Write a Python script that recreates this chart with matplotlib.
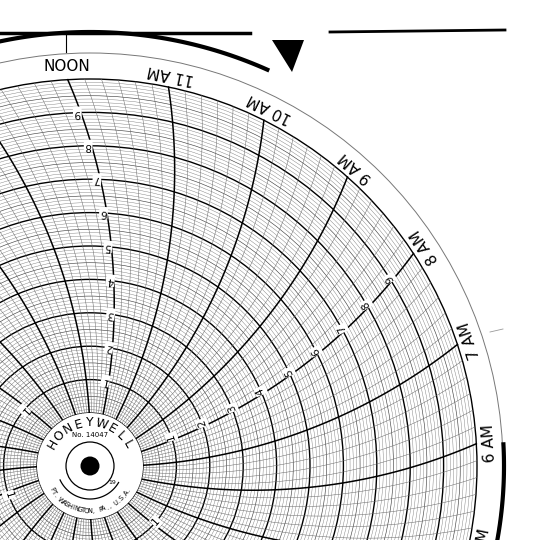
import numpy as np
import matplotlib
matplotlib.use("Agg")
import matplotlib.pyplot as plt
from matplotlib.patches import Circle, Polygon

# ---- data ----
hour_labels = ["6 AM", "7 AM", "8 AM", "9 AM", "10 AM", "11 AM", "NOON", "1 PM", "2 PM", "3 PM", "4 PM", "5 PM", "6 PM",
               "7 PM", "8 PM", "9 PM", "10 PM", "11 PM", "MIDNIGHT", "1 AM", "2 AM", "3 AM", "4 AM", "5 AM"]
hour_values = list(range(6, 30))  # hours from midnight
value_labels = ["1", "2", "3", "4", "5", "6", "7", "8", "9"]
value_ticks = [1, 2, 3, 4, 5, 6, 7, 8, 9]
labelled_hours = [8, 12, 16, 20, 24, 28]
brand = "HONEYWELL"
chart_no = "No. 14047"
origin = "FT. WASHINGTON, PA., U.S.A."

# ---- geometry ----
W, H = 552, 540
cx, cy = 90, 540 - 466
R = 387.0
r0 = 53.0
RHO = 560.0
unit = (R - r0) / 10.0

def theta(h):
    return 93.3 - (12 - h) * 15.0

def point_on_arc(th, r):
    a0 = th - np.degrees(np.arcsin(R / (2 * RHO)))
    a = np.radians(a0 + np.degrees(np.arcsin(np.asarray(r) / (2 * RHO))))
    return cx + r * np.cos(a), cy + r * np.sin(a)

def arc_pts(th, n=60):
    r = np.linspace(r0 - 5, R, n)
    return point_on_arc(th, r)

def inside(x, y, m=6):
    return m < x < W - m and m < y < H - m

fig = plt.figure(figsize=(5.52, 5.4), dpi=100)
ax = fig.add_axes([0, 0, 1, 1])
ax.set_xlim(0, W); ax.set_ylim(0, H)
ax.set_aspect("equal"); ax.axis("off")

# concentric circles
for k in range(0, 101):
    r = r0 + unit * k / 10
    if k % 10 == 0:
        lw, col = 1.0, "black"
    elif k % 5 == 0:
        lw, col = 0.45, "#444"
    else:
        lw, col = 0.3, "#777"
    ax.add_patch(Circle((cx, cy), r, fill=False, lw=lw, ec=col, zorder=2))

# time lines (10-minute)
for m in range(0, 24 * 6):
    h = 6 + m / 6
    x, y = arc_pts(theta(h))
    if m % 6 == 0:
        lw, col = 1.1, "black"
    else:
        lw, col = 0.35, "#666"
    ax.plot(x, y, lw=lw, color=col, zorder=3)

# hour labels
for lab, h in zip(hour_labels, hour_values):
    th = theta(h)
    rr = 400
    x, y = cx + rr * np.cos(np.radians(th)), cy + rr * np.sin(np.radians(th))
    if not (-10 < x < W + 10 and -10 < y < H + 10):
        continue
    rotn = 0 if lab == "NOON" else th + 90
    ax.text(x, y, lab, rotation=rotn, rotation_mode="anchor", ha="center", va="center",
            fontsize=11, family="DejaVu Sans", zorder=6)

# value labels on selected hour lines
for h in labelled_hours:
    th = theta(h)
    for lab, v in zip(value_labels, value_ticks):
        x, y = point_on_arc(th, r0 + unit * v)
        ang = np.degrees(np.arctan2(y - cy, x - cx))
        x += 3.5 * np.cos(np.radians(ang + 90))
        y += 3.5 * np.sin(np.radians(ang + 90))
        if not inside(x, y):
            continue
        ax.text(x, y, lab, rotation=ang + 90, rotation_mode="anchor", ha="center", va="center",
                fontsize=7.5, zorder=6,
                bbox=dict(boxstyle="square,pad=0.1", fc="white", ec="none"))

# outer paper circle
ax.add_patch(Circle((cx, cy), 413, fill=False, lw=0.7, ec="#777", zorder=2))

# centre disc
ax.add_patch(Circle((cx, cy), r0, fc="white", ec="none", zorder=7))
ax.add_patch(Circle((cx, cy), 24, fill=False, lw=0.9, ec="black", zorder=8))
ax.add_patch(Circle((cx, cy), 9.5, fc="black", ec="none", zorder=8))
ph = np.radians(np.linspace(205, 330, 60))
ax.plot(cx + 33 * np.cos(ph), cy + 33 * np.sin(ph), lw=0.9, color="black", zorder=8)
ax.text(cx + 22, cy - 16, "19", fontsize=4.5, ha="center", va="center", zorder=8)
ax.text(cx, cy + 31, chart_no, fontsize=5, ha="center", va="center", zorder=8)
angs = np.linspace(150, 30, len(brand))
for ch, a in zip(brand, angs):
    ax.text(cx + 43 * np.cos(np.radians(a)), cy + 43 * np.sin(np.radians(a)), ch,
            rotation=a - 90, ha="center", va="center", fontsize=9, zorder=8)
angs = np.linspace(212, 328, len(origin))
for ch, a in zip(origin, angs):
    ax.text(cx + 45 * np.cos(np.radians(a)), cy + 45 * np.sin(np.radians(a)), ch,
            rotation=a + 90, ha="center", va="center", fontsize=4.8, zorder=8)

# holder / edge marks
ax.plot([0, 250], [540 - 33, 540 - 33], lw=2.5, color="black", zorder=9)
ax.plot([330, 505], [540 - 32, 540 - 30], lw=2.0, color="black", zorder=9)
ax.plot([66, 66], [540 - 33, 540 - 52], lw=0.8, color="black", zorder=9)
ph = np.linspace(np.radians(102), np.radians(66), 50)
ax.plot(cx + 436 * np.cos(ph), cy + 436 * np.sin(ph) - 2, lw=3, color="black", zorder=9)
ax.add_patch(Polygon([[272, 540 - 40], [304, 540 - 40], [292, 540 - 72]], closed=True, fc="black", zorder=9))
ph = np.radians(np.linspace(3, -14, 30))
ax.plot(cx + 414 * np.cos(ph), cy + 414 * np.sin(ph), lw=3, color="black", zorder=9)
ax.plot([490, 503], [540 - 332, 540 - 329], lw=0.6, color="#999", zorder=9)

fig.savefig("out.png", dpi=100)
